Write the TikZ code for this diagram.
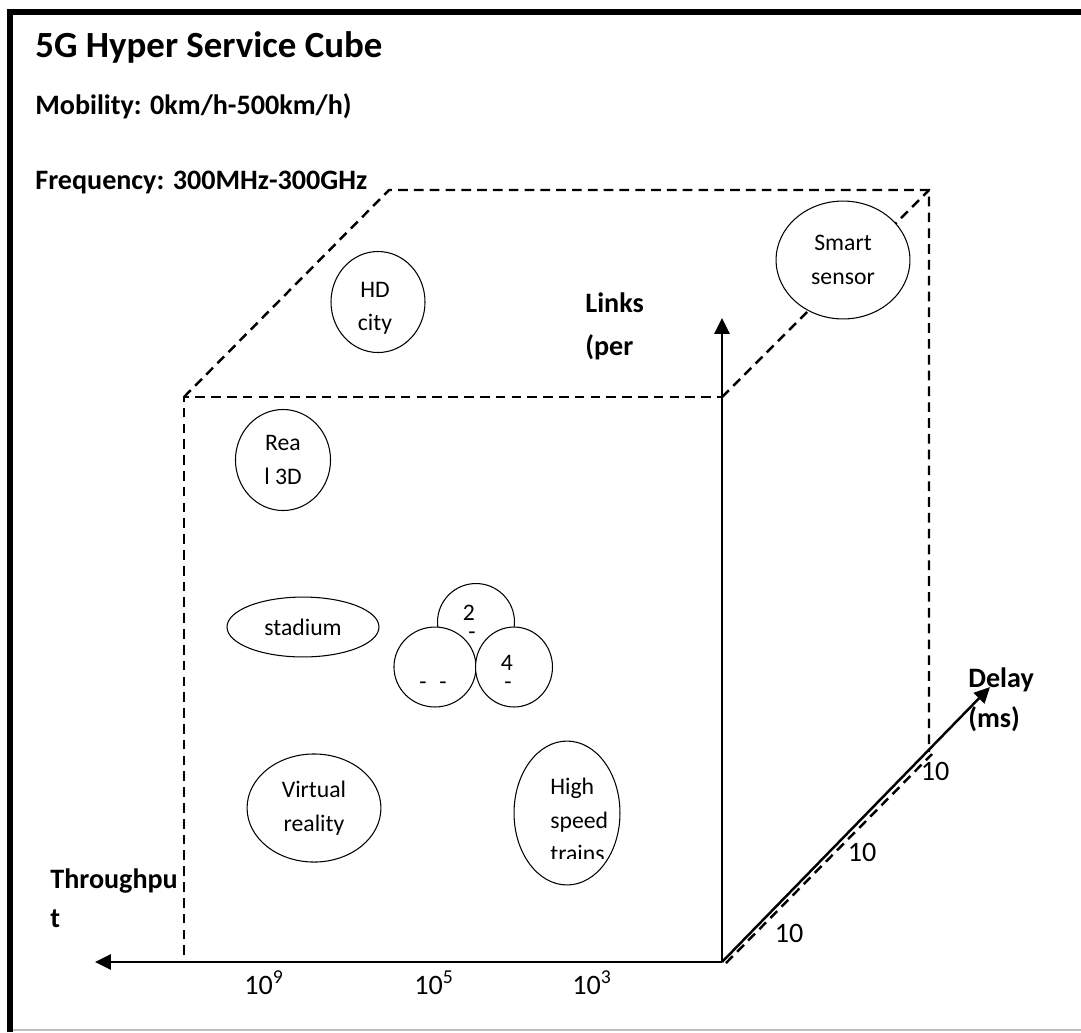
\documentclass[tikz,border=0pt]{standalone}
\usepackage{fontspec}
\setmainfont{Carlito}
\usetikzlibrary{shapes.geometric,arrows.meta}

\begin{document}
\begin{tikzpicture}[x=0.02cm, y=-0.02cm,
    every node/.style={font=\fontsize{13.5}{19}\selectfont, inner sep=0pt},
    svc/.style={draw, ellipse, fill=white, line width=0.6pt, align=center},
    lbl/.style={font=\fontsize{16}{19}\selectfont\bfseries, anchor=base west},
    cubeline/.style={dash pattern=on 5.5pt off 3.5pt, line width=1.4pt},
    axis/.style={line width=1.4pt, -{Triangle[length=9pt,width=8.5pt]}},
    tick/.style={font=\fontsize{16}{19}\selectfont}]
    \useasboundingbox (0,0) rectangle (1081,1032);
    % frame
    \draw[line width=3.4pt] (10,1032) -- (10,12) -- (1081,12);
    \draw[gray!50, line width=0.8pt] (13,1030) -- (1081,1030);

    % header
    \node[lbl, font=\fontsize{21}{25}\selectfont\bfseries] (title) at (35,57) {5G Hyper Service Cube};
    \node[lbl] (mob) at (35,114) {Mobility: 0km/h-500km/h)};
    \node[lbl] (freq) at (35,189) {Frequency: 300MHz-300GHz};

    % cube corners
    \coordinate (o) at (722,962);
    \coordinate (ftl) at (184,397);
    \coordinate (ftr) at (722,397);
    \coordinate (btl) at (389,190);
    \coordinate (btr) at (929,190);
    \coordinate (bbr) at (929,752);
    \draw[cubeline] (184,955) -- (ftl) -- (ftr) -- (o);
    \draw[cubeline] (ftl) -- (btl) -- (btr) -- (bbr);
    \draw[cubeline] (ftr) -- (btr);
    \draw[cubeline] (726,963) -- (932,754);

    % services
    \node[svc, minimum width=53.5pt, minimum height=57.5pt] (hd) at (378,302) {};
    \begin{scope}
      \clip (330,250) rectangle (426,333);
      \node[align=center] (hdtxt) at (375,308) {HD\\city};
    \end{scope}
    \node[svc, minimum width=76.2pt, minimum height=67.1pt] (sensor) at (843,260) {Smart\\sensor};
    \node[svc, minimum width=54.1pt, minimum height=57.5pt] (real) at (283,460) {Rea\\l 3D};
    \node[svc, minimum width=86.5pt, minimum height=34.1pt] (stadium) at (303,627) {stadium};
    \node[svc, minimum size=43.8pt] (g2) at (476,622) {};
    \node[svc, minimum width=46.7pt, minimum height=45.5pt] (g3) at (435,667) {};
    \node[svc, minimum width=43.8pt, minimum height=45.5pt] (g4) at (514,667) {};
    \node (g2a) at (469,613) {2};
    \node (g2b) at (472,636) {-};
    \node (g3a) at (423,686) {-};
    \node (g3b) at (443,686) {-};
    \node (g4a) at (507,663) {4};
    \node (g4b) at (508,686) {-};
    \node[svc, minimum width=76.2pt, minimum height=61.5pt] (vr) at (314,808) {Virtual\\reality};
    \node[svc, minimum width=60.3pt, minimum height=81.9pt] (hst) at (567,813) {};
    \begin{scope}
      \clip (540,760) rectangle (620,858);
      \node[align=left, anchor=west] (hsttxt) at (550,820) {High\\speed\\trains};
    \end{scope}

    % axes
    \coordinate (ytip) at (722,318);
    \coordinate (xtip) at (95,962);
    \coordinate (ztip) at (990,687);
    \draw[axis] (o) -- (ytip);
    \draw[axis] (o) -- (xtip);
    \draw[axis] (o) -- (ztip);

    % axis labels
    \node[lbl] (links) at (585,312) {Links};
    \node[lbl] (per) at (585,355) {(per};
    \node[lbl] (thr) at (50,888) {Throughpu};
    \node[lbl] (thr2) at (50,927) {t};
    \node[lbl] (delay) at (968,687) {Delay};
    \node[lbl] (ms) at (968,727) {(ms)};

    % ticks
    \node[tick] (t9) at (264,983) {10\textsuperscript{9}};
    \node[tick] (t5) at (434,983) {10\textsuperscript{5}};
    \node[tick] (t3) at (592,983) {10\textsuperscript{3}};
    \node[tick] (d1) at (935,771) {10};
    \node[tick] (d2) at (862,852) {10};
    \node[tick] (d3) at (789,933) {10};
\end{tikzpicture}
\end{document}
